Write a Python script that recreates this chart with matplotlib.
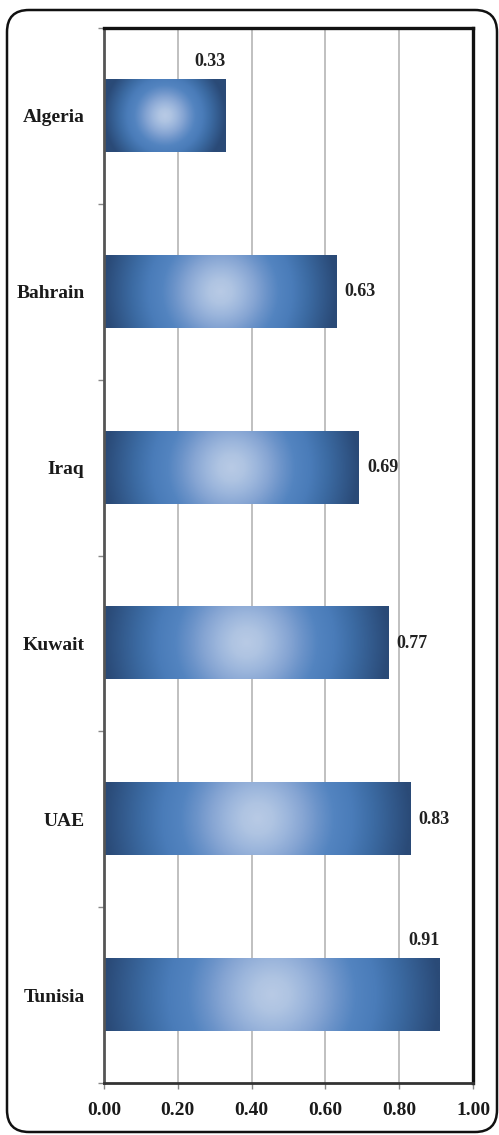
# Horizontal bar chart with radial gradient bars, Excel-style frame.

import numpy as np
import matplotlib.pyplot as plt
from matplotlib.colors import LinearSegmentedColormap
from matplotlib.patches import FancyBboxPatch

countries = ["Algeria", "Bahrain", "Iraq", "Kuwait", "UAE", "Tunisia"]
values = [0.33, 0.63, 0.69, 0.77, 0.83, 0.91]
label_above = ["Algeria", "Tunisia"]
xticks = [0.0, 0.2, 0.4, 0.6, 0.8, 1.0]

plt.rcParams["font.family"] = ["Liberation Serif", "DejaVu Serif"]
plt.rcParams["font.weight"] = "bold"

W, H = 499, 1135
fig = plt.figure(figsize=(W / 100, H / 100), dpi=100)

# rounded outer frame, drawn in pixel units
bg = fig.add_axes([0, 0, 1, 1], zorder=0)
bg.set_xlim(0, W)
bg.set_ylim(0, H)
bg.axis("off")
bg.add_patch(FancyBboxPatch((7, 3), 490, 1122, boxstyle="round,pad=0,rounding_size=22",
                            fc="white", ec="#111111", lw=1.8))

ax = fig.add_axes([104 / W, 52 / H, 369 / W, 1055 / H], zorder=1)
ax.set_facecolor("white")
pos = np.arange(len(countries))
bars = ax.barh(pos, values, height=0.41, color="none", edgecolor="none", zorder=2)
ax.set_xlim(0, 1.0)
ax.set_ylim(len(countries) - 0.5, -0.5)

cmap = LinearSegmentedColormap.from_list(
    "grad", [(0.0, "#b8cae5"), (0.1, "#afc4e2"), (0.2, "#9cb6dc"), (0.3, "#86a5d3"),
             (0.4, "#6b93c9"), (0.5, "#5384c0"), (0.62, "#4a7cb9"), (0.76, "#3c6ba3"),
             (1.0, "#2a4a77")])

fig.canvas.draw()
for b in bars:
    x0, y0, w, h = b.get_x(), b.get_y(), b.get_width(), b.get_height()
    (px0, py0), (px1, py1) = ax.transData.transform([(x0, y0), (x0 + w, y0 + h)])
    hw = abs(px1 - px0) / 2
    hh = abs(py1 - py0) / 2
    gx = np.linspace(-hw, hw, 300)
    gy = np.linspace(-hh, hh, 80)
    X, Y = np.meshgrid(gx, gy)
    r = np.clip(np.sqrt(X ** 2 + Y ** 2) / hw, 0, 1)
    ax.imshow(r, cmap=cmap, vmin=0, vmax=1, extent=(x0, x0 + w, y0 + h, y0),
              aspect="auto", interpolation="bilinear", zorder=2)

for name, b, v in zip(countries, bars, values):
    yc = b.get_y() + b.get_height() / 2
    if name in label_above:
        ax.annotate(f"{v:.2f}", (v, b.get_y()), xytext=(0, 7), textcoords="offset points",
                    ha="right", va="bottom", fontsize=13, fontweight="bold", color="#222222")
    else:
        ax.annotate(f"{v:.2f}", (v, yc), xytext=(6, 0), textcoords="offset points",
                    ha="left", va="center", fontsize=13, fontweight="bold", color="#222222")

ax.set_aspect("auto")
ax.set_xlim(0, 1.0)
ax.set_ylim(len(countries) - 0.5, -0.5)
ax.set_xticks(xticks)
ax.set_xticklabels([f"{t:.2f}" for t in xticks], fontsize=14, fontweight="bold", color="#1a1a1a")
ax.set_yticks(pos)
ax.set_yticklabels(countries, fontsize=14, fontweight="bold", color="#1a1a1a")
ax.set_yticks(np.arange(len(countries) + 1) - 0.5, minor=True)
ax.tick_params(axis="y", which="major", length=0, pad=14)
ax.tick_params(axis="y", which="minor", length=4, width=1, color="#888888", direction="out")
ax.tick_params(axis="x", length=4, width=1, color="#888888", direction="out", pad=10)

ax.grid(axis="x", color="#b5b5b5", lw=1.2, zorder=0)
ax.set_axisbelow(True)
ax.spines["left"].set_color("#555555")
ax.spines["left"].set_linewidth(2)
ax.spines["bottom"].set_color("#333333")
ax.spines["bottom"].set_linewidth(2)
ax.spines["top"].set_color("#111111")
ax.spines["top"].set_linewidth(2.4)
ax.spines["right"].set_color("#111111")
ax.spines["right"].set_linewidth(2.4)

plt.savefig("out.png", dpi=100)
